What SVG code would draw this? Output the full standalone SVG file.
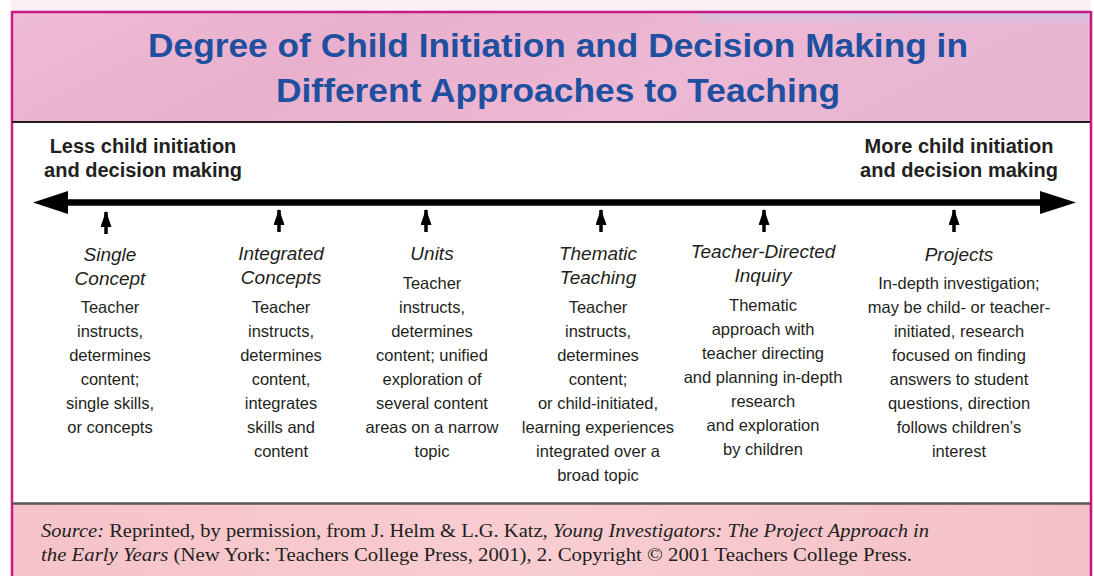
<svg xmlns="http://www.w3.org/2000/svg" width="1094" height="576" viewBox="0 0 1094 576">
<defs>
<linearGradient id="hdr" x1="0" y1="0" x2="1" y2="0.2">
<stop offset="0" stop-color="#efbcd6"/>
<stop offset="0.35" stop-color="#e8b0cc"/>
<stop offset="0.7" stop-color="#edb8d3"/>
<stop offset="1" stop-color="#e6b6d2"/>
</linearGradient>
<linearGradient id="tint" x1="0" y1="0" x2="0" y2="1">
<stop offset="0" stop-color="#c9c8e6" stop-opacity="0.8"/>
<stop offset="1" stop-color="#c9c8e6" stop-opacity="0"/>
</linearGradient>
<linearGradient id="ftr" x1="0" y1="0" x2="1" y2="0">
<stop offset="0" stop-color="#f6c3ca"/>
<stop offset="0.5" stop-color="#f8cdd2"/>
<stop offset="1" stop-color="#f4c0c8"/>
</linearGradient>
<marker id="ah" viewBox="0 0 16 11" refX="15" refY="5.5" markerWidth="16" markerHeight="11" markerUnits="userSpaceOnUse" orient="auto">
<path d="M0,0 L16,5.5 L0,11 Z" fill="#000"/>
</marker>
<style>
.title{font-family:"Liberation Sans",Arial,sans-serif;font-weight:bold;font-size:34px;fill:#1f4f9f;text-anchor:middle}
.side{font-family:"Liberation Sans",Arial,sans-serif;font-weight:bold;font-size:20px;fill:#231f20;text-anchor:middle}
.head{font-family:"Liberation Sans",Arial,sans-serif;font-style:italic;font-size:19px;fill:#231f20;text-anchor:middle}
.body{font-family:"Liberation Sans",Arial,sans-serif;font-size:16.5px;fill:#231f20;text-anchor:middle}
.src{font-family:"Liberation Serif","Times New Roman",serif;font-size:18px;fill:#231f20}
.tick{stroke:#000;stroke-width:3.5;fill:none}
</style>
</defs>
<rect x="0" y="0" width="1094" height="576" fill="#ffffff"/>
<rect x="11" y="0" width="1080" height="11" fill="#fbeef4"/>
<!-- header -->
<rect x="12" y="12" width="1078" height="110" fill="url(#hdr)"/>
<rect x="700" y="12" width="390" height="14" fill="url(#tint)"/>
<!-- white panel -->
<rect x="12" y="122" width="1078" height="381" fill="#ffffff"/>
<!-- footer -->
<rect x="12" y="503" width="1078" height="73" fill="url(#ftr)"/>
<!-- frame -->
<line x1="12" y1="12" x2="1090" y2="12" stroke="#c81a85" stroke-width="2.5"/>
<line x1="12" y1="11" x2="12" y2="576" stroke="#d0187f" stroke-width="2.5"/>
<line x1="1091" y1="11" x2="1091" y2="576" stroke="#c8137a" stroke-width="2.5"/>
<line x1="12" y1="122" x2="1090" y2="122" stroke="#231f20" stroke-width="2"/>
<line x1="12" y1="503.5" x2="1090" y2="503.5" stroke="#5a5657" stroke-width="2.5"/>

<g id="title">
<text class="title" x="558" y="57" textLength="820" lengthAdjust="spacingAndGlyphs">Degree of Child Initiation and Decision Making in</text>
<text class="title" x="558" y="102" textLength="564" lengthAdjust="spacingAndGlyphs">Different Approaches to Teaching</text>
</g>

<g id="connectors">
<line x1="62" y1="202.5" x2="1046" y2="202.5" stroke="#000" stroke-width="6.5"/>
<path d="M33,202.5 L68,191 L68,214 Z" fill="#000"/>
<path d="M1076,202.5 L1040,191 L1040,214 Z" fill="#000"/>
<line class="tick" x1="106" y1="234" x2="106" y2="212" marker-end="url(#ah)"/>
<line class="tick" x1="279" y1="232" x2="279" y2="210" marker-end="url(#ah)"/>
<line class="tick" x1="426" y1="232" x2="426" y2="210" marker-end="url(#ah)"/>
<line class="tick" x1="601" y1="232" x2="601" y2="210" marker-end="url(#ah)"/>
<line class="tick" x1="764" y1="232" x2="764" y2="210" marker-end="url(#ah)"/>
<line class="tick" x1="954" y1="232" x2="954" y2="210" marker-end="url(#ah)"/>
</g>

<g id="less">
<text class="side" x="143" y="153">Less child initiation</text>
<text class="side" x="143" y="177">and decision making</text>
</g>
<g id="more">
<text class="side" x="959" y="153">More child initiation</text>
<text class="side" x="959" y="177">and decision making</text>
</g>

<g id="single-concept">
<text class="head" x="110" y="261">Single</text>
<text class="head" x="110" y="285">Concept</text>
<text class="body" x="110" y="313">Teacher</text>
<text class="body" x="110" y="337">instructs,</text>
<text class="body" x="110" y="361">determines</text>
<text class="body" x="110" y="385">content;</text>
<text class="body" x="110" y="409">single skills,</text>
<text class="body" x="110" y="433">or concepts</text>
</g>

<g id="integrated-concepts">
<text class="head" x="281" y="260">Integrated</text>
<text class="head" x="281" y="284">Concepts</text>
<text class="body" x="281" y="313">Teacher</text>
<text class="body" x="281" y="337">instructs,</text>
<text class="body" x="281" y="361">determines</text>
<text class="body" x="281" y="385">content,</text>
<text class="body" x="281" y="409">integrates</text>
<text class="body" x="281" y="433">skills and</text>
<text class="body" x="281" y="457">content</text>
</g>

<g id="units">
<text class="head" x="432" y="260">Units</text>
<text class="body" x="432" y="289">Teacher</text>
<text class="body" x="432" y="313">instructs,</text>
<text class="body" x="432" y="337">determines</text>
<text class="body" x="432" y="361">content; unified</text>
<text class="body" x="432" y="385">exploration of</text>
<text class="body" x="432" y="409">several content</text>
<text class="body" x="432" y="433">areas on a narrow</text>
<text class="body" x="432" y="457">topic</text>
</g>

<g id="thematic-teaching">
<text class="head" x="598" y="260">Thematic</text>
<text class="head" x="598" y="284">Teaching</text>
<text class="body" x="598" y="313">Teacher</text>
<text class="body" x="598" y="337">instructs,</text>
<text class="body" x="598" y="361">determines</text>
<text class="body" x="598" y="385">content;</text>
<text class="body" x="598" y="409">or child-initiated,</text>
<text class="body" x="598" y="433">learning experiences</text>
<text class="body" x="598" y="457">integrated over a</text>
<text class="body" x="598" y="481">broad topic</text>
</g>

<g id="teacher-directed-inquiry">
<text class="head" x="763" y="258">Teacher-Directed</text>
<text class="head" x="763" y="282">Inquiry</text>
<text class="body" x="763" y="311">Thematic</text>
<text class="body" x="763" y="335">approach with</text>
<text class="body" x="763" y="359">teacher directing</text>
<text class="body" x="763" y="383">and planning in-depth</text>
<text class="body" x="763" y="407">research</text>
<text class="body" x="763" y="431">and exploration</text>
<text class="body" x="763" y="455">by children</text>
</g>

<g id="projects">
<text class="head" x="959" y="261">Projects</text>
<text class="body" x="959" y="289">In-depth investigation;</text>
<text class="body" x="959" y="313">may be child- or teacher-</text>
<text class="body" x="959" y="337">initiated, research</text>
<text class="body" x="959" y="361">focused on finding</text>
<text class="body" x="959" y="385">answers to student</text>
<text class="body" x="959" y="409">questions, direction</text>
<text class="body" x="959" y="433">follows children’s</text>
<text class="body" x="959" y="457">interest</text>
</g>

<g id="source">
<text class="src" x="41" y="537" textLength="888" lengthAdjust="spacingAndGlyphs"><tspan font-style="italic">Source:</tspan> Reprinted, by permission, from J. Helm &amp; L.G. Katz, <tspan font-style="italic">Young Investigators: The Project Approach in</tspan></text>
<text class="src" x="41" y="561" textLength="871" lengthAdjust="spacingAndGlyphs"><tspan font-style="italic">the Early Years</tspan> (New York: Teachers College Press, 2001), 2. Copyright © 2001 Teachers College Press.</text>
</g>
</svg>
